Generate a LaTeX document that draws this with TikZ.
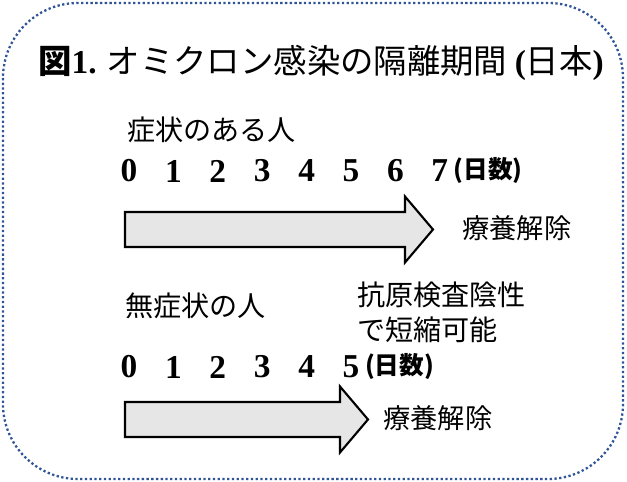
\documentclass[tikz,border=0pt]{standalone}
\usepackage{fontspec}
\setmainfont{Liberation Serif}
\newfontfamily\jp{Noto Sans CJK JP}
\usepackage{tikz}
\usetikzlibrary{calc}

\definecolor{framecol}{HTML}{2F5597}
\definecolor{arrowfill}{HTML}{E6E6E6}

\tikzset{
  frame/.style={framecol, line width=1.3pt, dash pattern=on 1.3pt off 1.4pt, rounded corners=1.5cm},
  blockarrow/.style={draw=black, line width=1.2pt, fill=arrowfill, line join=miter},
  day/.style={font=\fontsize{19}{19}\selectfont\bfseries, inner sep=0pt},
  unit/.style={font=\jp\fontsize{14}{14}\selectfont\bfseries, inner sep=0pt, anchor=west},
  label/.style={font=\jp\fontsize{16}{16}\selectfont, inner sep=0pt, anchor=west},
  release/.style={font=\jp\fontsize{15.5}{15.5}\selectfont, inner sep=0pt, anchor=west}
}

\begin{document}
\begin{tikzpicture}[x=0.02cm,y=-0.02cm]
\pgfmathsetmacro{\B}{17.5} % half body height
\pgfmathsetmacro{\H}{33}   % half head height
\pgfmathsetmacro{\L}{28}   % head length

\useasboundingbox (0,0) rectangle (627,482);

% dotted frame
\draw[frame] (3,3) rectangle (623,479);

% title
\node[anchor=west, inner sep=0pt] (title) at (38,63)
  {\jp\fontsize{19}{19}\selectfont{\bfseries 図}{\rmfamily\bfseries 1.} オミクロン感染の隔離期間 {\rmfamily\bfseries (}日本{\rmfamily\bfseries )}};

% group labels
\node[label] (sym) at (127,130) {症状のある人};
\node[label] (asym) at (125,306) {無症状の人};
\node[label] (test1) at (357,295) {抗原検査陰性};
\node[label] (test2) at (357,330) {で短縮可能};

% day numbers, one row for each group
\foreach \n/\y [count=\k] in {7/171,5/367}
{
\foreach \d in {0,...,\n}
  \node[day] (d\k\d) at (129+\d*44.4,\y) {\d};
\node[unit] (u\k) at ($(d\k\n.east)+(5,0)$) {(日数)};
}

% block arrows: tail and tip
\coordinate (t1) at (125,229.5);
\coordinate (h1) at (433,229.5);
\coordinate (t2) at (125,419.5);
\coordinate (h2) at (368,419.5);

\foreach \k in {1,2}
{
\draw[blockarrow] ($(t\k)+(0,-\B)$) -- ($(h\k)+(-\L,-\B)$) -- ($(h\k)+(-\L,-\H)$)
  -- (h\k) -- ($(h\k)+(-\L,\H)$) -- ($(h\k)+(-\L,\B)$) -- ($(t\k)+(0,\B)$) -- cycle;
}

% end of isolation
\node[release] (r1) at (462,228) {療養解除};
\node[release] (r2) at (383,418) {療養解除};

\end{tikzpicture}
\end{document}
